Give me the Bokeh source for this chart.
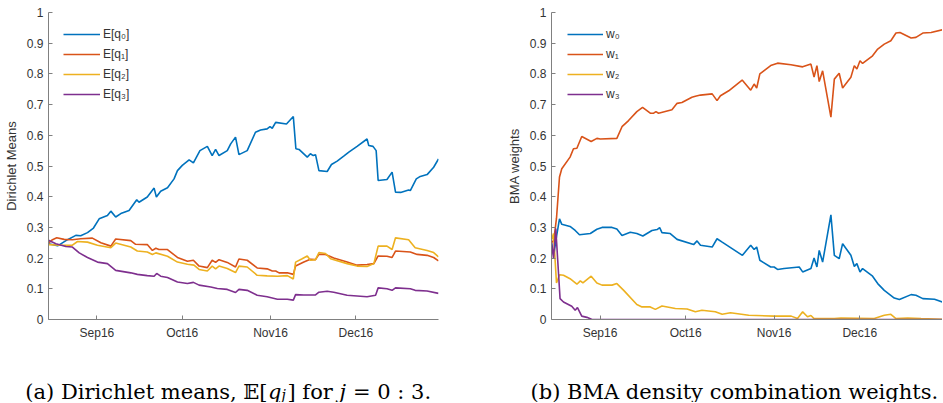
import datetime as dt
from bokeh.plotting import figure
from bokeh.models import Range1d, FixedTicker, Legend, LegendItem
from bokeh.layouts import row, column
from bokeh.core.properties import value
from bokeh.embed import file_html
from bokeh.resources import INLINE

# ---------------- data ----------------
START = dt.date(2016, 8, 15)          # first day shown; x = days since START
END_DAY = 137                          # 30 Dec 2016
month_starts = [dt.date(2016, 9, 1), dt.date(2016, 10, 1), dt.date(2016, 11, 1), dt.date(2016, 12, 1)]
x_tick_labels = ["Sep16", "Oct16", "Nov16", "Dec16"]
y_ticks = [0, 0.1, 0.2, 0.3, 0.4, 0.5, 0.6, 0.7, 0.8, 0.9, 1]
y_tick_labels = ["0", "0.1", "0.2", "0.3", "0.4", "0.5", "0.6", "0.7", "0.8", "0.9", "1"]

# (a) Dirichlet means  -- (day, value)
q0 = [(0, 0.247), (3.2, 0.24), (6.7, 0.26), (9.6, 0.274), (11.3, 0.273), (13.7, 0.283), (15.8, 0.298),
      (17.8, 0.328), (20.7, 0.339), (21.9, 0.353), (23.6, 0.334), (25.4, 0.345), (28.3, 0.355), (31.0, 0.39),
      (31.8, 0.382), (34.7, 0.399), (37.1, 0.428), (37.9, 0.399), (39.4, 0.418), (41.8, 0.429), (44.1, 0.458),
      (45.3, 0.485), (47.0, 0.502), (49.4, 0.52), (50.9, 0.51), (53.2, 0.55), (55.8, 0.564), (57.5, 0.534),
      (58.7, 0.554), (59.9, 0.534), (62.8, 0.55), (64.0, 0.572), (65.7, 0.594), (66.9, 0.537), (69.8, 0.55),
      (72.7, 0.61), (74.5, 0.617), (76.8, 0.621), (77.8, 0.628), (78.6, 0.623), (79.8, 0.642), (83.6, 0.637),
      (86.0, 0.661), (86.9, 0.556), (88.0, 0.554), (90.9, 0.529), (92.0, 0.54), (93.0, 0.534), (93.8, 0.537),
      (95.0, 0.485), (97.9, 0.482), (99.4, 0.505), (101.4, 0.516), (103.7, 0.532), (105.5, 0.545),
      (108.4, 0.564), (111.9, 0.588), (112.5, 0.567), (114.0, 0.564), (115.1, 0.55), (115.8, 0.453),
      (118.9, 0.456), (120.7, 0.48), (121.9, 0.415), (123.7, 0.414), (126.5, 0.422), (127.1, 0.42),
      (129.2, 0.458), (130.6, 0.466), (133.0, 0.472), (135.3, 0.496), (137.0, 0.523)]
q1 = [(0, 0.249), (1.4, 0.26), (2.9, 0.266), (5.5, 0.261), (8.4, 0.26), (11.3, 0.263), (15.4, 0.265),
      (18.4, 0.25), (21.9, 0.239), (23.6, 0.262), (28.9, 0.257), (30.6, 0.245), (34.7, 0.244), (36.5, 0.225),
      (37.7, 0.232), (38.8, 0.228), (41.8, 0.228), (45.3, 0.202), (48.8, 0.19), (50.9, 0.193), (52.9, 0.174),
      (55.8, 0.169), (57.5, 0.193), (58.7, 0.186), (59.9, 0.195), (62.8, 0.186), (65.7, 0.171), (66.9, 0.197),
      (69.8, 0.193), (73.3, 0.168), (76.8, 0.165), (78.6, 0.158), (79.8, 0.158), (81.0, 0.152), (83.9, 0.152),
      (86.0, 0.147), (86.8, 0.174), (89.7, 0.187), (92.0, 0.196), (93.8, 0.195), (95.0, 0.212), (97.3, 0.212),
      (100.2, 0.2), (104.9, 0.187), (108.4, 0.177), (111.9, 0.179), (114.3, 0.182), (115.8, 0.207),
      (118.9, 0.206), (120.7, 0.202), (121.9, 0.223), (127.1, 0.22), (129.5, 0.212), (133.0, 0.209),
      (135.3, 0.202), (137.0, 0.191)]
q2 = [(0, 0.244), (4.3, 0.242), (8.4, 0.242), (10.2, 0.254), (13.7, 0.252), (17.2, 0.242), (21.9, 0.234),
      (23.6, 0.249), (28.9, 0.236), (31.2, 0.223), (34.7, 0.22), (36.5, 0.212), (37.7, 0.217), (41.8, 0.206),
      (45.3, 0.187), (48.8, 0.18), (51.1, 0.177), (52.9, 0.163), (55.8, 0.158), (57.5, 0.174), (58.7, 0.165),
      (59.9, 0.174), (62.8, 0.166), (65.7, 0.153), (66.9, 0.174), (69.8, 0.171), (73.3, 0.144), (76.8, 0.142),
      (80.4, 0.141), (83.9, 0.143), (86.0, 0.132), (86.8, 0.187), (89.1, 0.198), (90.9, 0.207), (92.0, 0.193),
      (93.8, 0.195), (95.0, 0.218), (97.3, 0.215), (99.1, 0.198), (104.9, 0.182), (108.4, 0.174),
      (111.9, 0.173), (114.3, 0.182), (115.8, 0.239), (118.9, 0.239), (120.7, 0.228), (121.9, 0.266),
      (126.5, 0.26), (128.8, 0.234), (133.0, 0.225), (135.3, 0.218), (137.0, 0.204)]
q3 = [(0, 0.258), (2.6, 0.247), (6.1, 0.238), (8.4, 0.236), (10.8, 0.217), (13.7, 0.202), (17.2, 0.187),
      (20.7, 0.182), (23.6, 0.16), (28.9, 0.152), (31.2, 0.147), (34.7, 0.143), (37.1, 0.141), (38.0, 0.15),
      (39.4, 0.141), (41.8, 0.137), (45.3, 0.122), (48.8, 0.117), (50.9, 0.121), (52.9, 0.112), (57.0, 0.106),
      (59.3, 0.101), (62.8, 0.098), (65.7, 0.088), (66.9, 0.098), (69.8, 0.095), (73.3, 0.079), (76.8, 0.074),
      (80.4, 0.066), (83.9, 0.066), (86.0, 0.063), (86.8, 0.081), (89.7, 0.08), (93.8, 0.08), (95.0, 0.089),
      (97.9, 0.092), (100.2, 0.089), (104.9, 0.079), (111.9, 0.074), (114.9, 0.079), (115.8, 0.103),
      (118.9, 0.1), (120.7, 0.095), (121.9, 0.103), (127.1, 0.1), (128.8, 0.095), (133.0, 0.093), (137.0, 0.085)]

# (b) BMA weights -- (day, value)
w0 = [(0, 0.25), (0.8, 0.21), (1.75, 0.27), (2.8, 0.328), (3.6, 0.31), (6.5, 0.303), (8.3, 0.29), (9.8, 0.276),
      (13.6, 0.28), (15.9, 0.294), (17.7, 0.30), (21.2, 0.30), (22.9, 0.295), (24.7, 0.274), (27.6, 0.284),
      (29.9, 0.28), (32.0, 0.272), (35.2, 0.29), (37.0, 0.293), (37.9, 0.299), (38.7, 0.283), (41.6, 0.28),
      (44.0, 0.261), (49.8, 0.244), (51.0, 0.256), (52.2, 0.242), (56.3, 0.236), (58.0, 0.263), (59.8, 0.252),
      (66.9, 0.209), (69.8, 0.242), (71.0, 0.228), (71.9, 0.236), (73.0, 0.193), (76.8, 0.171), (78.0, 0.171),
      (79.2, 0.163), (81.5, 0.166), (86.8, 0.171), (88.0, 0.155), (90.9, 0.166), (92.0, 0.2), (93.0, 0.171),
      (93.8, 0.225), (95.0, 0.187), (97.9, 0.341), (99.1, 0.209), (100.8, 0.198), (102.0, 0.247),
      (104.9, 0.209), (106.1, 0.173), (107.0, 0.182), (108.1, 0.155), (109.0, 0.166), (112.5, 0.141),
      (114.3, 0.117), (116.6, 0.095), (120.1, 0.07), (121.9, 0.065), (126.0, 0.081), (127.7, 0.079),
      (130.1, 0.068), (134.2, 0.066), (137.0, 0.057)]
w1 = [(0, 0.25), (0.8, 0.258), (1.75, 0.33), (2.8, 0.464), (3.6, 0.491), (6.5, 0.529), (7.7, 0.556),
      (8.9, 0.558), (10.6, 0.596), (13.9, 0.58), (15.9, 0.59), (17.1, 0.588), (22.9, 0.59), (24.7, 0.628),
      (27.0, 0.648), (29.9, 0.677), (31.9, 0.691), (34.6, 0.672), (35.8, 0.672), (36.6, 0.677), (37.5, 0.672),
      (42.2, 0.683), (44.0, 0.704), (45.7, 0.707), (49.2, 0.724), (50.4, 0.727), (52.2, 0.731), (56.3, 0.735),
      (58.0, 0.713), (59.2, 0.729), (62.1, 0.745), (66.8, 0.78), (69.8, 0.747), (71.0, 0.767), (71.9, 0.754),
      (73.0, 0.80), (76.8, 0.827), (79.2, 0.835), (83.9, 0.83), (88.0, 0.823), (90.9, 0.832), (92.0, 0.79),
      (93.0, 0.827), (93.8, 0.775), (95.0, 0.81), (97.9, 0.659), (99.1, 0.783), (100.8, 0.802), (102.0, 0.754),
      (104.9, 0.789), (106.1, 0.827), (107.0, 0.816), (108.1, 0.843), (109.0, 0.834), (112.5, 0.859),
      (114.3, 0.881), (116.6, 0.897), (118.9, 0.908), (120.7, 0.933), (122.1, 0.935), (126.0, 0.917),
      (127.7, 0.919), (130.1, 0.933), (133.0, 0.935), (137.0, 0.944)]
w2 = [(0, 0.258), (0.7, 0.28), (1.75, 0.119), (2.8, 0.146), (4.2, 0.144), (6.5, 0.133), (8.9, 0.115),
      (10.1, 0.126), (11.0, 0.119), (13.9, 0.141), (15.9, 0.119), (17.7, 0.112), (21.2, 0.112), (22.9, 0.117),
      (25.3, 0.095), (29.9, 0.049), (31.7, 0.041), (34.6, 0.041), (36.4, 0.033), (38.7, 0.044), (43.4, 0.036),
      (47.5, 0.034), (50.4, 0.025), (52.7, 0.03), (57.4, 0.025), (59.8, 0.017), (62.7, 0.022), (69.1, 0.014),
      (78.0, 0.011), (84.0, 0.011), (86.2, 0.003), (88.0, 0.025), (89.7, 0.009), (90.9, 0.013), (92.0, 0.003),
      (99.1, 0.003), (101.4, 0.005), (113.1, 0.003), (116.6, 0.014), (118.9, 0.017), (120.7, 0.003),
      (124.8, 0.005), (129.5, 0.003), (137.0, 0.001)]
w3 = [(0, 0.25), (0.7, 0.20), (1.5, 0.296), (3.0, 0.068), (4.2, 0.057), (7.1, 0.043), (8.3, 0.03), (9.1, 0.039),
      (10.6, 0.011), (12.4, 0.007), (14.2, 0.0), (137.0, 0.0)]

colors = ["#0072BD", "#D95319", "#EDB120", "#7E2F8E"]
labels_a = ["E[q₀]", "E[q₁]", "E[q₂]", "E[q₃]"]
labels_b = ["w₀", "w₁", "w₂", "w₃"]

# caption pieces: (text, font size, style, baseline shift, anchor)
caption_a = [("(a) Dirichlet means, 𝔼[", 21, "normal", 0, "right"),
             ("q", 21, "italic", 0, "left"),
             ("j", 14, "italic", -3, "left"),
             ("] for", 21, "normal", 0, "left"),
             ("j", 21, "italic", 0, "left"),
             ("= 0 : 3.", 21, "normal", 0, "left")]
caption_a_x = [267, 267.5, 281, 287, 339, 352.5]
caption_b = [("(b) BMA density combination weights.", 21, "normal", 0, "left")]
caption_b_x = [530]

x_ticks = [(d - START).days for d in month_starts]

H = 345
AX_COL = "#808080"
TXT_COL = "#333333"


def make_panel(width, bl, br, ylabel, series, labels, glyph_w, leg_x):
    p = figure(width=width, height=H, x_range=Range1d(0, END_DAY), y_range=Range1d(0, 1),
               output_backend="svg", toolbar_location=None,
               min_border_left=bl, min_border_right=br, min_border_top=12, min_border_bottom=26)
    p.outline_line_color = None
    p.background_fill_color = "white"
    p.border_fill_color = "white"
    p.xgrid.visible = False
    p.ygrid.visible = False

    p.xaxis.ticker = FixedTicker(ticks=x_ticks)
    p.xaxis.major_label_overrides = dict(zip(x_ticks, x_tick_labels))
    p.yaxis.ticker = FixedTicker(ticks=y_ticks)
    p.yaxis.major_label_overrides = dict(zip(y_ticks, y_tick_labels))
    for ax in (p.xaxis[0], p.yaxis[0]):
        ax.axis_line_color = AX_COL
        ax.axis_line_width = 1
        ax.major_tick_line_color = AX_COL
        ax.major_tick_in = 4
        ax.major_tick_out = 0
        ax.minor_tick_line_color = None
        ax.major_label_text_font = "Liberation Sans"
        ax.major_label_text_font_size = "12px"
        ax.major_label_text_color = TXT_COL
        ax.major_label_standoff = 5
    p.xaxis.major_label_standoff = 6
    p.yaxis.axis_label = ylabel
    p.yaxis.axis_label_text_font = "Liberation Sans"
    p.yaxis.axis_label_text_font_size = "13px"
    p.yaxis.axis_label_text_font_style = "normal"
    p.yaxis.axis_label_text_color = TXT_COL
    p.yaxis.axis_label_standoff = 5

    items = []
    for s, c, lab in zip(series, colors, labels):
        xs = [d for d, _ in s]
        ys = [v for _, v in s]
        r = p.line(xs, ys, line_color=c, line_width=1.6)
        items.append(LegendItem(label=lab, renderers=[r]))
    leg = Legend(items=items, location=(leg_x, 215), glyph_width=glyph_w, glyph_height=20,
                 label_height=20, spacing=0, padding=0, margin=0, label_standoff=3,
                 border_line_color=None, background_fill_alpha=0,
                 label_text_font="Liberation Sans", label_text_font_size="12px",
                 label_text_color=TXT_COL)
    p.add_layout(leg)
    return p


pa = make_panel(470, 48, 32, "Dirichlet Means", [q0, q1, q2, q3], labels_a, 37, 15)
pb = make_panel(472, 81, 0, "BMA weights", [w0, w1, w2, w3], labels_b, 36, 16)

# caption strip: a plain figure whose data units are pixels
CAP_W, CAP_H = 942, 57
BASE = 11   # baseline height in the strip
pc = figure(width=CAP_W, height=CAP_H, x_range=Range1d(0, CAP_W), y_range=Range1d(0, CAP_H),
            output_backend="svg", toolbar_location=None, x_axis_location=None, y_axis_location=None,
            min_border=0)
pc.outline_line_color = None
pc.xgrid.visible = False
pc.ygrid.visible = False
for pieces, xs in ((caption_a, caption_a_x), (caption_b, caption_b_x)):
    for (txt, size, style, dy, anchor), x in zip(pieces, xs):
        pc.text(x=[x], y=[BASE + dy], text=[txt], text_font=value("DejaVu Serif"),
                text_font_size=f"{size}px", text_font_style=style, text_color="black",
                text_align=anchor, text_baseline="alphabetic")

layout = column(row(pa, pb), pc)
open("out.html", "w").write(file_html(layout, INLINE))
